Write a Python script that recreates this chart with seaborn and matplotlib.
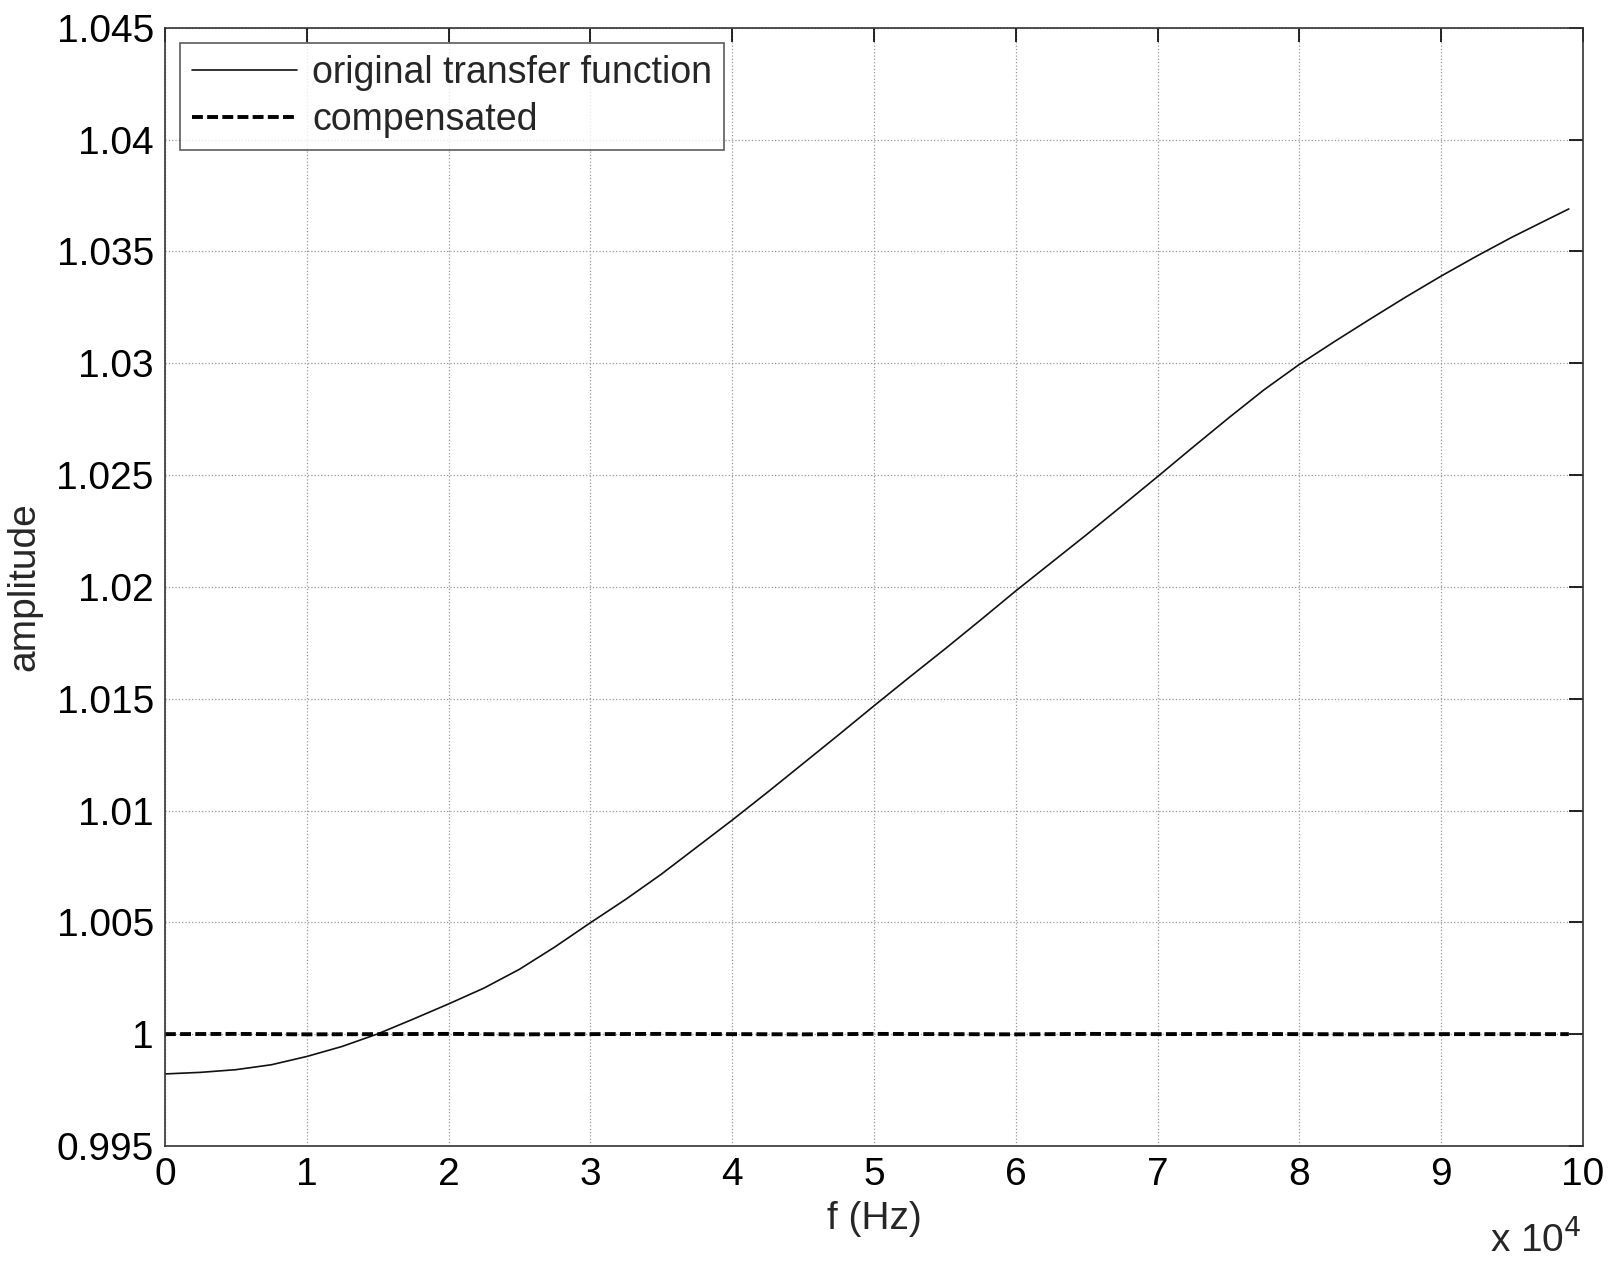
import numpy as np
import pandas as pd
import matplotlib
matplotlib.use("Agg")
import matplotlib.pyplot as plt
import seaborn as sns

# original transfer function (f in Hz)
freq_orig = [0, 2500, 5000, 7500, 10000, 12500, 15000, 17500, 20000, 22500,
             25000, 27500, 30000, 32500, 35000, 37500, 40000, 42500, 45000, 47500,
             50000, 52500, 55000, 57500, 60000, 62500, 65000, 67500, 70000, 72500,
             75000, 77500, 80000, 82500, 85000, 87500, 90000, 92500, 95000, 97500, 99000]
original = [0.99822, 0.99829, 0.99841, 0.99863, 0.99900, 0.99945, 1.00001, 1.00067,
            1.00135, 1.00206, 1.00290, 1.00390, 1.00498, 1.00603, 1.00715, 1.00836,
            1.00957, 1.01082, 1.01210, 1.01338, 1.01468, 1.01596, 1.01722, 1.01851,
            1.01982, 1.02108, 1.02234, 1.02363, 1.02493, 1.02625, 1.02755, 1.02881,
            1.02995, 1.03098, 1.03198, 1.03296, 1.03390, 1.03479, 1.03564, 1.03643,
            1.03690]

# compensated response, flat at 1 with tiny ripple
freq_comp = [0, 5000, 10000, 15000, 20000, 25000, 30000, 35000, 40000, 45000,
             50000, 55000, 60000, 65000, 70000, 75000, 80000, 85000, 90000, 95000, 99000]
compensated = [1.00000, 1.00001, 0.99999, 1.00000, 1.00001, 0.99999, 1.00000, 1.00001,
               1.00000, 0.99999, 1.00001, 1.00000, 0.99999, 1.00001, 1.00000, 1.00001,
               1.00000, 0.99999, 1.00000, 1.00000, 1.00000]

df_orig = pd.DataFrame({"f": freq_orig, "amplitude": original})
df_comp = pd.DataFrame({"f": freq_comp, "amplitude": compensated})

sns.set_style("white")
plt.rcParams['font.family'] = ['Liberation Sans', 'DejaVu Sans']
fs = 28

fig = plt.figure(figsize=(16.14, 12.64), dpi=100)
ax = fig.add_axes([0.1022, 0.0934, 0.8786, 0.8846])

sns.lineplot(data=df_orig, x="f", y="amplitude", ax=ax, color="#111111",
             linewidth=1.2, label="original transfer function")
sns.lineplot(data=df_comp, x="f", y="amplitude", ax=ax, color="black",
             linewidth=2.8, linestyle=(0, (2.8, 1.1)), label="compensated")

ax.set_xlim(0, 100000)
ax.set_ylim(0.995, 1.045)
ax.set_xticks(np.arange(0, 100001, 10000))
ax.set_xticklabels([str(i) for i in range(11)])
ax.set_yticks(np.arange(0.995, 1.0451, 0.005))
ax.set_yticklabels(["0.995", "1", "1.005", "1.01", "1.015", "1.02", "1.025",
                    "1.03", "1.035", "1.04", "1.045"])
ax.tick_params(direction="in", length=10, width=1.2, labelsize=fs, colors="black",
               top=True, right=True, pad=8)
ax.grid(True, linestyle=":", color="#999999", linewidth=0.9)
for s in ax.spines.values():
    s.set_color("#333333")
    s.set_linewidth(1.2)

ax.set_xlabel("f (Hz)", fontsize=fs, labelpad=6)
ax.set_ylabel("amplitude", fontsize=fs, labelpad=10)
fig.text(0.98, 0.004, r"x 10$^{4}$", fontsize=fs, ha="right", va="bottom")

leg = ax.legend(loc="upper left", fontsize=27, frameon=True, fancybox=False,
                edgecolor="#333333", handlelength=2.8, borderaxespad=0.4,
                borderpad=0.32, labelspacing=0.3, handletextpad=0.4)
leg.get_frame().set_linewidth(1.2)

fig.savefig("out.png", dpi=100)
